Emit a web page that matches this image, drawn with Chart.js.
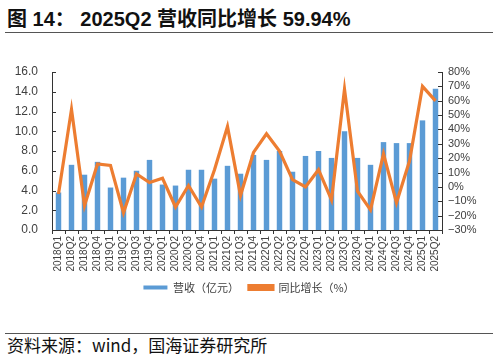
<!DOCTYPE html>
<html lang="zh">
<head>
    <meta charset="UTF-8">
    <title>2025Q2 营收同比增长</title>
    <script src="https://cdn.jsdelivr.net/npm/chart.js"></script>
    <style>
        body { margin: 0; width: 498px; height: 362px; background: #fff; position: relative; overflow: hidden; }
        .title { position: absolute; left: 7px; top: 3px; font: bold 20px "Liberation Sans", "Noto Sans CJK SC", sans-serif; color: #111; white-space: nowrap; }
        .rule { position: absolute; left: 5px; width: 488px; height: 1px; background: #555; }
        .source { position: absolute; left: 7px; top: 332px; font: 17px "Noto Sans CJK SC", sans-serif; color: #111; white-space: nowrap; }
        .chart-box { position: absolute; left: 0; top: 36px; width: 498px; height: 268px; }
    </style>
</head>
<body>
    <div class="title">图 14：&nbsp;2025Q2 营收同比增长 59.94%</div>
    <div class="rule" style="top:32px"></div>
    <div class="chart-box"><canvas id="revChart"></canvas></div>
    <div class="rule" style="top:333px"></div>
    <div class="source">资料来源：wind，国海证券研究所</div>

    <script>
        const quarters = ['2018Q1','2018Q2','2018Q3','2018Q4','2019Q1','2019Q2','2019Q3','2019Q4',
            '2020Q1','2020Q2','2020Q3','2020Q4','2021Q1','2021Q2','2021Q3','2021Q4',
            '2022Q1','2022Q2','2022Q3','2022Q4','2023Q1','2023Q2','2023Q3','2023Q4',
            '2024Q1','2024Q2','2024Q3','2024Q4','2025Q1','2025Q2'];
        // 营收（亿元）
        const revenue = [3.8, 6.6, 5.6, 6.9, 4.3, 5.3, 6.0, 7.1,
            4.6, 4.5, 6.1, 6.1, 5.2, 6.5, 5.7, 7.6,
            7.1, 8.0, 5.9, 7.5, 8.0, 7.3, 10.0, 7.3,
            6.6, 8.9, 8.8, 8.8, 11.1, 14.3];
        // 同比增长（%）
        const yoyGrowth = [-5, 54, -13, 16, 15, -18, 9, 3,
            6, -14, 1, -14, 12, 42, -6, 24,
            37, 25, 5, 0, 12, -9, 68, -3,
            -16, 23, -11, 18, 70, 59.94];

        const axisColor = '#333';
        const labelColor = '#404040';

        // y axes have their tick marks pointing into the plot
        const innerTicks = {
            id: 'innerTicks',
            afterDatasetsDraw(chart) {
                const ctx = chart.ctx;
                ctx.save();
                ctx.strokeStyle = axisColor;
                ctx.lineWidth = 1;
                ['y', 'y1'].forEach(id => {
                    const s = chart.scales[id];
                    const x0 = id === 'y' ? s.right : s.left;
                    const dir = id === 'y' ? 1 : -1;
                    s.ticks.forEach(t => {
                        const py = Math.round(s.getPixelForValue(t.value)) + 0.5;
                        ctx.beginPath();
                        ctx.moveTo(x0, py);
                        ctx.lineTo(x0 + dir * 4, py);
                        ctx.stroke();
                    });
                });
                ctx.restore();
            }
        };

        new Chart(document.getElementById('revChart'), {
            data: {
                labels: quarters,
                datasets: [
                    {
                        type: 'line',
                        label: '同比增长（%）',
                        data: yoyGrowth,
                        yAxisID: 'y1',
                        borderColor: '#ED7D31',
                        backgroundColor: '#ED7D31',
                        borderWidth: 3.2,
                        pointRadius: 0,
                        tension: 0,
                        order: 0
                    },
                    {
                        type: 'bar',
                        label: '营收（亿元）',
                        data: revenue,
                        yAxisID: 'y',
                        backgroundColor: '#5B9BD5',
                        barPercentage: 0.42,
                        categoryPercentage: 1,
                        order: 1
                    }
                ]
            },
            options: {
                responsive: true,
                maintainAspectRatio: false,
                animation: false,
                layout: { padding: { top: 36, left: 0, right: 0, bottom: 1 } },
                plugins: {
                    tooltip: { enabled: false },
                    legend: {
                        position: 'bottom',
                        reverse: true,
                        labels: {
                            boxWidth: 24,
                            boxHeight: 4,
                            padding: 10,
                            color: labelColor,
                            font: { family: '"Noto Sans CJK SC", sans-serif', size: 11 }
                        }
                    }
                },
                scales: {
                    x: {
                        grid: { display: true, drawOnChartArea: false, drawTicks: true, tickLength: 4, color: axisColor, offset: true },
                        border: { color: axisColor, width: 1 },
                        ticks: {
                            color: labelColor,
                            maxRotation: 90,
                            minRotation: 90,
                            autoSkip: false,
                            padding: 2,
                            font: { family: '"Liberation Sans", sans-serif', size: 10 }
                        },
                        afterFit(s) { s.height = 42; }
                    },
                    y: {
                        position: 'left',
                        min: 0,
                        max: 16,
                        ticks: {
                            stepSize: 2,
                            autoSkip: false,
                            color: labelColor,
                            padding: 14,
                            font: { family: '"Liberation Sans", sans-serif', size: 12 },
                            callback: v => v.toFixed(1)
                        },
                        grid: { display: false, drawTicks: false },
                        border: { color: axisColor, width: 1 },
                        afterFit(s) { s.width = 52; }
                    },
                    y1: {
                        position: 'right',
                        min: -30,
                        max: 80,
                        ticks: {
                            stepSize: 10,
                            autoSkip: false,
                            color: labelColor,
                            padding: 6,
                            font: { family: '"Liberation Sans", sans-serif', size: 11 },
                            callback: v => (v < 0 ? '\u2212' + Math.abs(v) : v) + '%'
                        },
                        grid: { display: false, drawTicks: false },
                        border: { color: axisColor, width: 1 },
                        afterFit(s) { s.width = 56; }
                    }
                }
            },
            plugins: [innerTicks]
        });
    </script>
</body>
</html>
